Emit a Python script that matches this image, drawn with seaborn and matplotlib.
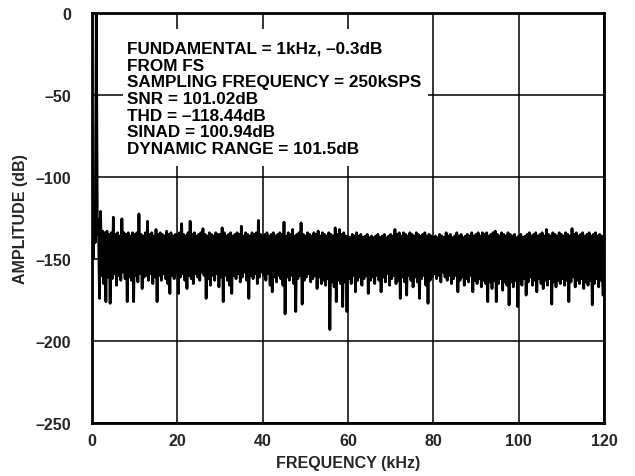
import numpy as np
import pandas as pd
import matplotlib
matplotlib.use("Agg")
import matplotlib.pyplot as plt
from matplotlib.patches import Rectangle
import seaborn as sns

# ---- data ----
bin_step_khz = 0.25
# local maxima of the spectrum, bins at 0, 0.5, 1.0 ... 119.5 kHz
upper_db = [
    -68, -120, -0.3, -126, -121, -133, -134, -133, -135, -134, -124.5, -135, -134, -136, -125.5, -134, -135, -134, -136, -134,
    -135, -134, -122.5, -135, -136, -134, -127, -135, -134, -136, -132, -135, -134, -135, -136, -133, -135, -134, -136, -135,
    -135, -134, -128.5, -135, -136, -134, -127, -135, -134, -136, -135, -134, -131.5, -135, -136, -134, -135, -136, -134, -135,
    -135, -131, -134, -136, -135, -134, -136, -135, -134, -135, -130, -136, -134, -135, -136, -134, -135, -134, -126.5, -135,
    -136, -135, -134, -136, -135, -134, -136, -135, -134, -135, -127.5, -136, -134, -135, -132, -136, -135, -134, -128, -135,
    -136, -134, -135, -136, -134, -135, -133, -136, -134, -135, -136, -134, -135, -136, -131, -135, -132, -135, -134, -136,
    -136, -137, -135, -136, -134, -136, -135, -137, -136, -135, -137, -136, -137, -136, -135, -137, -136, -135, -137, -136,
    -135, -136, -132, -135, -134, -136, -134, -135, -136, -134, -135, -136, -134, -135, -136, -135, -134, -136, -135, -136,
    -137, -136, -137, -135, -136, -137, -134, -136, -135, -137, -136, -134, -136, -135, -137, -136, -135, -136, -134, -136,
    -135, -134, -136, -134, -135, -134, -136, -135, -134, -133, -135, -136, -134, -135, -136, -134, -135, -136, -135, -137,
    -136, -135, -137, -136, -135, -134, -136, -135, -134, -136, -135, -134, -136, -132, -135, -136, -134, -135, -136, -134,
    -135, -136, -134, -135, -136, -131.5, -135, -134, -136, -135, -134, -136, -135, -134, -136, -135, -134, -136, -135, -136,
]
# local minima of the spectrum, bins at 0.25, 0.75 ... 119.75 kHz
lower_db = [
    -150, -140, -135, -174, -160, -165, -176, -161, -177, -162, -159, -166, -160, -163, -158, -162, -176, -161, -163, -176,
    -160, -164, -159, -168, -161, -160, -163, -159, -165, -161, -176, -160, -163, -159, -162, -165, -171, -160, -162, -158,
    -171, -161, -159, -163, -168, -160, -162, -165, -159, -161, -163, -158, -160, -174, -162, -166, -160, -163, -159, -167,
    -161, -176, -160, -163, -166, -171, -160, -162, -159, -164, -161, -158, -163, -174, -160, -162, -159, -165, -161, -158,
    -160, -163, -159, -166, -170, -161, -164, -160, -162, -166, -183.5, -161, -163, -160, -165, -182, -162, -160, -177.5, -163,
    -161, -159, -164, -162, -160, -168, -161, -165, -163, -166, -162, -193, -164, -167, -176, -163, -165, -179, -164, -182,
    -162, -165, -160, -170, -163, -161, -166, -162, -160, -171, -163, -161, -165, -160, -163, -170, -161, -164, -159, -166,
    -162, -160, -165, -163, -174, -161, -164, -172, -160, -163, -167, -161, -164, -174, -162, -160, -166, -177, -163, -161,
    -159, -162, -160, -164, -158, -161, -163, -160, -165, -162, -160, -170, -163, -161, -166, -162, -164, -160, -170, -163,
    -165, -162, -167, -163, -165, -176, -164, -168, -163, -176, -165, -162, -169, -164, -166, -178, -164, -167, -163, -179,
    -163, -166, -162, -172, -164, -161, -166, -163, -170, -162, -165, -168, -163, -166, -162, -177.5, -164, -167, -163, -165,
    -162, -166, -163, -176, -164, -161, -167, -163, -165, -162, -168, -164, -166, -163, -178, -165, -162, -167, -163, -172,
]
x_ticks = [0, 20, 40, 60, 80, 100, 120]
x_tick_labels = ["0", "20", "40", "60", "80", "100", "120"]
y_ticks = [0, -50, -100, -150, -200, -250]
y_tick_labels = ["0", "\u201350", "\u2013100", "\u2013150", "\u2013200", "\u2013250"]
x_label = "FREQUENCY (kHz)"
y_label = "AMPLITUDE (dB)"
info_lines = [
    "FUNDAMENTAL = 1kHz, \u20130.3dB",
    "FROM FS",
    "SAMPLING FREQUENCY = 250kSPS",
    "SNR = 101.02dB",
    "THD = \u2013118.44dB",
    "SINAD = 100.94dB",
    "DYNAMIC RANGE = 101.5dB",
]

# ---- build spectrum table ----
amp = np.empty(len(upper_db) + len(lower_db))
amp[0::2] = upper_db
amp[1::2] = lower_db
freq = np.arange(len(amp)) * bin_step_khz
df = pd.DataFrame({"freq": freq, "amp": amp})

sns.set_style("white")
plt.rcParams["font.family"] = ["Liberation Sans", "DejaVu Sans"]
plt.rcParams["font.weight"] = "bold"

fig = plt.figure(figsize=(6.35, 4.77), dpi=100)
ax = fig.add_axes([0.1449, 0.1111, 0.8063, 0.8595])

ax.grid(True, color="black", linewidth=1.1)
ax.set_axisbelow(True)
sns.lineplot(data=df, x="freq", y="amp", color="black", linewidth=2.0,
             estimator=None, sort=False, ax=ax, zorder=3)

ax.set_xlim(0, 120)
ax.set_ylim(-250, 0)
ax.set_xticks(x_ticks)
ax.set_xticklabels(x_tick_labels, fontsize=11.5, fontweight="bold")
ax.set_yticks(y_ticks)
ax.set_yticklabels(y_tick_labels, fontsize=11.5, fontweight="bold")
ax.tick_params(axis="y", length=0, pad=15)
ax.tick_params(axis="x", length=0, pad=7)
ax.set_xlabel(x_label, fontsize=11.5, fontweight="bold", labelpad=5)
ax.set_ylabel(y_label, fontsize=11.5, fontweight="bold", labelpad=5)
for s in ax.spines.values():
    s.set_color("black")
    s.set_linewidth(2.0)

ax.add_patch(Rectangle((0.0605, 0.627), 0.596, 0.334, transform=ax.transAxes,
                       facecolor="white", edgecolor="none", zorder=2.5))
ax.text(8.2, -17.0, "\n".join(info_lines), fontsize=12.3, fontweight="bold",
        color="black", va="top", ha="left", linespacing=1.14, zorder=4)

fig.savefig("out.png", dpi=100)
